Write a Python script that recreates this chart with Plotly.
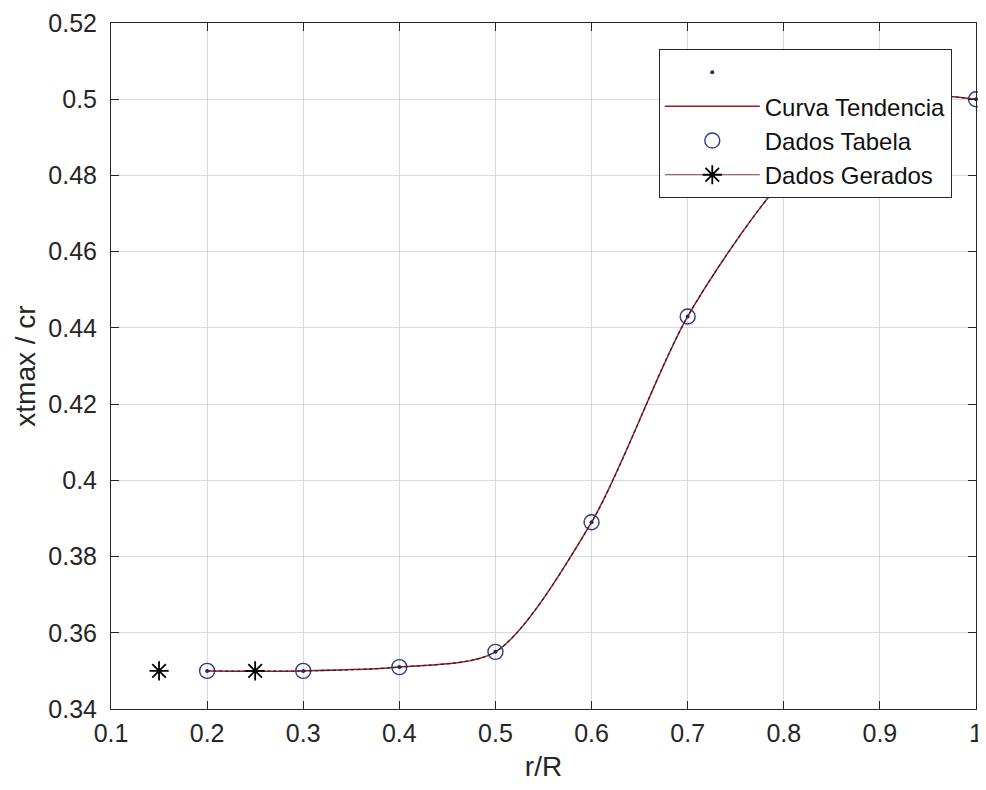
import plotly.graph_objects as go

# Table data (Dados Tabela)
r_tab = [0.2, 0.3, 0.4, 0.5, 0.6, 0.7, 0.8, 0.9, 1.0]
xt_tab = [0.350, 0.350, 0.351, 0.355, 0.389, 0.443, 0.479, 0.500, 0.500]

# Generated data (Dados Gerados)
r_gen = [0.15, 0.25]
xt_gen = [0.350, 0.350]

x_ticks = [0.1, 0.2, 0.3, 0.4, 0.5, 0.6, 0.7, 0.8, 0.9, 1.0]
x_ticktext = ["0.1", "0.2", "0.3", "0.4", "0.5", "0.6", "0.7", "0.8", "0.9", "1"]
y_ticks = [0.34, 0.36, 0.38, 0.40, 0.42, 0.44, 0.46, 0.48, 0.50, 0.52]
y_ticktext = ["0.34", "0.36", "0.38", "0.4", "0.42", "0.44", "0.46", "0.48", "0.5", "0.52"]

FONT = "Liberation Sans, Arial, sans-serif"
RED = "#9b1c2a"
INK = "#262626"

# gap-separated arrays: generated points stay unjoined, legend shows line + marker
gx, gy = [], []
for a, b in zip(r_gen, xt_gen):
    gx += [a, None]
    gy += [b, None]

fig = go.Figure()

fig.add_trace(go.Scatter(
    x=r_tab, y=xt_tab, mode="lines", name="Curva Tendencia",
    line=dict(color=RED, width=1.5, shape="spline", smoothing=0.8),
    legendrank=2,
))
fig.add_trace(go.Scatter(
    x=r_tab, y=xt_tab, mode="lines", showlegend=False,
    line=dict(color="#2a2020", width=1.2, shape="spline", smoothing=0.8, dash="dot"),
    hoverinfo="skip",
))
fig.add_trace(go.Scatter(
    x=r_tab, y=xt_tab, mode="markers", name="Dados Tabela",
    marker=dict(symbol="circle-open", size=15, color="#2c3a8a", line=dict(width=1.4)),
    legendrank=3, cliponaxis=False,
))
fig.add_trace(go.Scatter(
    x=r_tab, y=xt_tab, mode="markers", name=" ",
    marker=dict(symbol="circle", size=4, color="#1c2a6a"),
    legendrank=1, cliponaxis=False,
))
fig.add_trace(go.Scatter(
    x=gx, y=gy, mode="lines+markers", name="Dados Gerados", connectgaps=False,
    line=dict(color="#7a3a30", width=1.2),
    marker=dict(symbol="asterisk-open", size=16, color="black", line=dict(width=1.8, color="black")),
    legendrank=4,
))

axis_common = dict(
    showline=True, linecolor=INK, linewidth=1, mirror="ticks",
    ticks="inside", ticklen=8, tickcolor=INK,
    showgrid=True, gridcolor="#dadada", gridwidth=1,
    zeroline=False, automargin=False, ticklabeloverflow="allow",
    tickfont=dict(family=FONT, size=25, color=INK),
)

fig.update_xaxes(
    range=[0.1, 1.0], tickvals=x_ticks, ticktext=x_ticktext,
    title=dict(text="r/R", font=dict(family=FONT, size=28, color=INK), standoff=20),
    ticklabelstandoff=2,
    **axis_common,
)
fig.update_yaxes(
    range=[0.34, 0.52], tickvals=y_ticks, ticktext=y_ticktext,
    title=dict(text="xtmax / cr", font=dict(family=FONT, size=28, color=INK), standoff=4),
    ticklabelstandoff=8,
    **axis_common,
)

# page body has an 8px margin: size/margins chosen so the plot box lands where the reference has it
fig.update_layout(
    width=978, height=774,
    margin=dict(l=103, r=10, t=15, b=73),
    paper_bgcolor="white", plot_bgcolor="white",
    font=dict(family=FONT, color=INK),
    legend=dict(
        x=0.972, y=0.962, xanchor="right", yanchor="top",
        bgcolor="white", bordercolor=INK, borderwidth=1,
        font=dict(family=FONT, size=24, color="#111"),
        itemwidth=95, tracegroupgap=0,
    ),
    showlegend=True,
)

fig.write_html("out.html")
